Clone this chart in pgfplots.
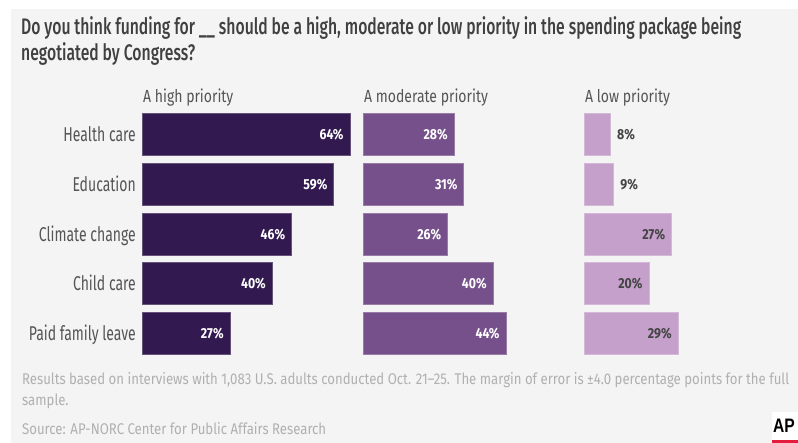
\documentclass[border=0pt]{standalone}
\usepackage{fontspec}
\usepackage{graphicx}
\usepackage{pgfplots}
\pgfplotsset{compat=1.18}
\setmainfont{Fira Sans}
\newfontfamily\titlefont{Fira Sans Medium}
\newfontfamily\catfont{Fira Sans}[FakeStretch=0.70]
\newfontfamily\hdrfont{Fira Sans}[FakeStretch=0.8]
\newfontfamily\valfont{Fira Sans}[FakeStretch=0.85]
\newfontfamily\logofont{Liberation Sans}
\definecolor{bg}{HTML}{F4F4F4}
\definecolor{cA}{HTML}{321A50}
\definecolor{cB}{HTML}{76508A}
\definecolor{cC}{HTML}{C4A0CB}
\definecolor{titlegray}{HTML}{404040}
\definecolor{labgray}{HTML}{555555}
\definecolor{valgray}{HTML}{444444}
\definecolor{footgray}{HTML}{B0B0B0}
\definecolor{apred}{HTML}{E31B3C}
\newsavebox\fitbox
\newcommand\titlestyle{\titlefont\fontsize{22.5}{26}\selectfont}
\newcommand\footstyle{\fontsize{15.5}{17}\selectfont}
\pgfplotsset{
  panel/.style={
    anchor=north west,
    x=3.24pt, y=49.65pt, y dir=reverse,
    xmin=0, ymin=-0.5, ymax=4.5,
    xbar, bar width=42pt, bar shift=0pt,
    axis line style={draw=none}, xtick=\empty, ytick=\empty,
    major tick length=0pt,
    clip=false,
    point meta=x,
    nodes near coords={\pgfmathprintnumber[assume math mode=true,fixed,precision=0]{\pgfplotspointmeta}\%},
    every node near coord/.append style={anchor=base east, inner sep=0pt, xshift=-6pt, yshift=-5pt,
      font=\valfont\bfseries\fontsize{14.5}{14.5}\selectfont},
  },
}
\begin{document}%
\sbox\fitbox{\titlestyle Do you think funding for \_\_ should be a high, moderate or low priority in the spending package being}%
\pgfmathsetmacro\tratio{720/\the\wd\fitbox}%
\sbox\fitbox{\footstyle Results based on interviews with 1,083 U.S. adults conducted Oct. 21–25. The margin of error is ±4.0 percentage points for the full}%
\pgfmathsetmacro\fratio{767/\the\wd\fitbox}%
\begin{tikzpicture}
\path[use as bounding box] (0pt,0pt) rectangle (798pt,-443pt);
\fill[white] (0pt,0pt) rectangle (798pt,-443pt);
\fill[bg] (11pt,-9pt) rectangle (798pt,-443pt);
% title
\node[anchor=base west, inner sep=0pt, text=titlegray] at (21pt,-35pt) {\titlestyle\scalebox{\tratio}[1]{Do you think funding for \_\_ should be a high, moderate or low priority in the spending package being}};
\node[anchor=base west, inner sep=0pt, text=titlegray] at (21pt,-61pt) {\titlestyle\scalebox{\tratio}[1]{negotiated by Congress?}};
% headers
\node[anchor=base west, inner sep=0pt, text=labgray] at (143pt,-102.7pt) {\hdrfont\fontsize{17.5}{17.5}\selectfont A high priority};
\node[anchor=base west, inner sep=0pt, text=labgray] at (364pt,-102.7pt) {\hdrfont\fontsize{17.5}{17.5}\selectfont A moderate priority};
\node[anchor=base west, inner sep=0pt, text=labgray] at (585pt,-102.7pt) {\hdrfont\fontsize{17.5}{17.5}\selectfont A low priority};
% panel 1
\begin{axis}[panel, at={(142.5pt,-109.9pt)}, xmax=65,
  ytick={0,1,2,3,4},
  yticklabels={Health care,Education,Climate change,Child care,Paid family leave},
  yticklabel style={anchor=base east, inner sep=0pt, xshift=-6.5pt, yshift=-7pt,
    font=\catfont\fontsize{20}{20}\selectfont, text=labgray},
  every node near coord/.append style={text=white}]
\addplot[fill=cA, draw=cA!75!white, line width=0.6pt] coordinates {(64,0) (59,1) (46,2) (40,3) (27,4)};
\end{axis}
% panel 2
\begin{axis}[panel, at={(363.3pt,-109.9pt)}, xmax=46,
  every node near coord/.append style={text=white}]
\addplot[fill=cB, draw=cB!75!white, line width=0.6pt] coordinates {(28,0) (31,1) (26,2) (40,3) (44,4)};
\end{axis}
% panel 3
\begin{axis}[panel, at={(584pt,-109.9pt)}, xmax=46,
  every node near coord/.append style={text=valgray}]
\addplot[fill=cC, draw=cC!75!white, line width=0.6pt,
  every node near coord/.append style={anchor=base west, xshift=13pt}] coordinates {(8,0) (9,1)};
\addplot[fill=cC, draw=cC!75!white, line width=0.6pt] coordinates {(27,2) (20,3) (29,4)};
\end{axis}
% footer
\node[anchor=base west, inner sep=0pt, text=footgray] at (22pt,-385pt) {\footstyle\scalebox{\fratio}[1]{Results based on interviews with 1,083 U.S. adults conducted Oct. 21–25. The margin of error is ±4.0 percentage points for the full}};
\node[anchor=base west, inner sep=0pt, text=footgray] at (22pt,-406pt) {\footstyle\scalebox{\fratio}[1]{sample.}};
\node[anchor=base west, inner sep=0pt, text=footgray] at (22pt,-434.5pt) {\footstyle\scalebox{\fratio}[1]{Source: AP-NORC Center for Public Affairs Research}};
% AP logo
\fill[white] (772pt,-412pt) rectangle (798pt,-443pt);
\fill[apred] (772pt,-440.5pt) rectangle (798pt,-443pt);
\node[anchor=base west, inner sep=0pt] at (773pt,-432pt) {\logofont\bfseries\fontsize{19.5}{19.5}\selectfont\scalebox{0.8}[1]{AP}};
\end{tikzpicture}%
\end{document}
